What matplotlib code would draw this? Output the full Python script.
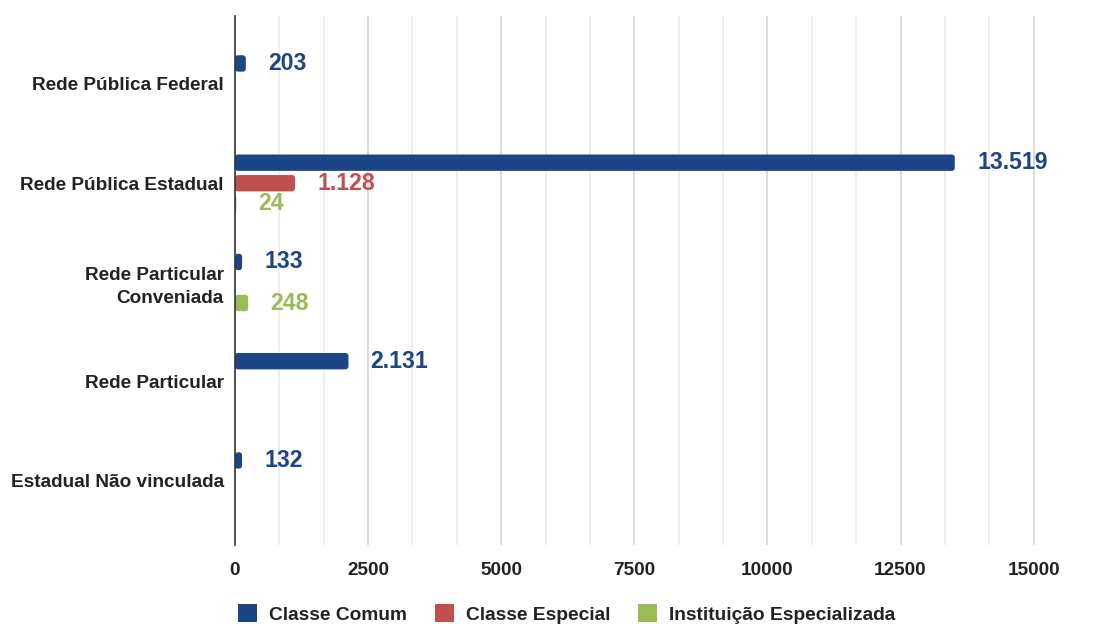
import matplotlib
matplotlib.use("Agg")
import matplotlib.pyplot as plt
from matplotlib.patches import FancyBboxPatch, Patch
from matplotlib.ticker import MultipleLocator
import numpy as np

categories = ["Rede Pública Federal", "Rede Pública Estadual",
              "Rede Particular\nConveniada", "Rede Particular",
              "Estadual Não vinculada"]
series_names = ["Classe Comum", "Classe Especial", "Instituição Especializada"]
classe_comum = [203, 13519, 133, 2131, 132]
classe_especial = [0, 1128, 0, 0, 0]
instituicao = [0, 24, 248, 0, 0]
x_ticks = [0, 2500, 5000, 7500, 10000, 12500, 15000]

colors = ["#1c4587", "#c0504d", "#9bbb59"]
series = [classe_comum, classe_especial, instituicao]

plt.rcParams['font.family'] = ['Liberation Sans', 'DejaVu Sans']

W, H = 1115, 624
fig = plt.figure(figsize=(W / 100, H / 100), dpi=100)
ax = fig.add_axes([235 / W, 1 - 545 / H, (1078 - 235) / W, (545 - 16) / H])

xmax = 15833.33
ax.set_xlim(0, xmax)
ax.set_ylim(4 + 0.645, -0.685)

y = np.arange(len(categories))
step = 0.207
bh = 0.165
px_x = xmax / (1078 - 235)
px_y = 5.33 / (545 - 16)

for k, (vals, col) in enumerate(zip(series, colors)):
    bars = ax.barh(y + (k - 1) * step, vals, height=bh, color=col)
    for rect, v in zip(bars.patches, vals):
        rect.set_visible(False)
        if v <= 0:
            continue
        x0, y0, w, h = rect.get_x(), rect.get_y(), rect.get_width(), rect.get_height()
        r = min(3 * px_x, w / 2)
        p = FancyBboxPatch((x0, y0), w, h,
                           boxstyle=f"round,pad=0,rounding_size={r}",
                           mutation_aspect=px_y / px_x,
                           facecolor=col, edgecolor="none", zorder=3)
        ax.add_patch(p)
        ax.annotate(f"{v:,}".replace(",", "."), xy=(x0 + w, y0 + h / 2),
                    xytext=(16, 0), textcoords="offset points",
                    ha="left", va="center", fontsize=16.6, fontweight="bold",
                    color=col, zorder=4)

ax.set_yticks(y)
ax.set_yticklabels(categories, fontsize=13.7, fontweight="bold",
                   color="#222222", linespacing=1.45)
ax.set_xticks(x_ticks)
ax.set_xticklabels([str(t) for t in x_ticks], fontsize=13.7,
                   fontweight="bold", color="#222222")
ax.xaxis.set_minor_locator(MultipleLocator(2500 / 3))
ax.tick_params(axis="both", which="both", length=0)
ax.tick_params(axis="x", pad=12.5)
ax.tick_params(axis="y", pad=8)

ax.grid(True, axis="x", which="minor", color="#ebebeb", linewidth=1.2, zorder=0)
ax.grid(True, axis="x", which="major", color="#d6d6d6", linewidth=1.2, zorder=0)
ax.set_axisbelow(True)
for s in ["top", "right", "bottom"]:
    ax.spines[s].set_visible(False)
ax.spines["left"].set_color("#333333")
ax.spines["left"].set_linewidth(1.2)
ax.spines["left"].set_zorder(5)

handles = [Patch(facecolor=c, edgecolor="none") for c in colors]
fig.legend(handles, series_names, loc="center left",
           bbox_to_anchor=(238 / W, 1 - 614 / H), ncol=3, frameon=False,
           prop={"weight": "bold", "size": 13.8},
           handlelength=1.0, handleheight=1.0, handletextpad=0.62,
           columnspacing=1.45, borderpad=0, borderaxespad=0,
           labelcolor="#222222")

fig.savefig("out.png", dpi=100)
